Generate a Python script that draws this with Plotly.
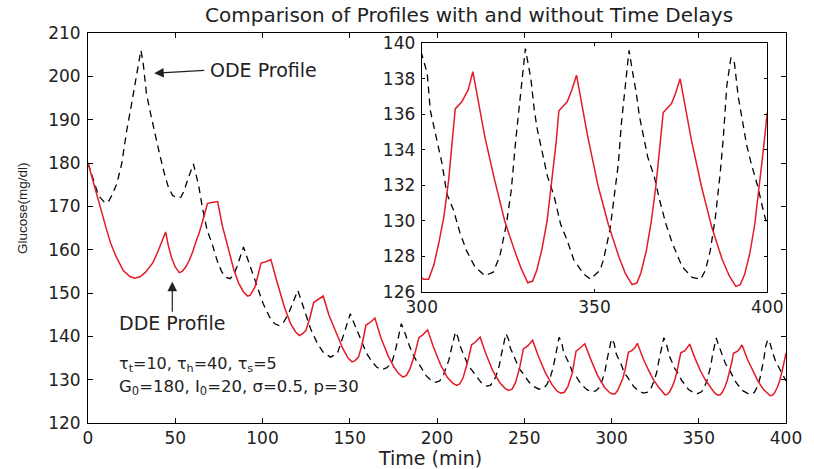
import plotly.graph_objects as go

# ---------------- data ----------------
ode_time = [0, 3, 6, 9.9, 12, 14, 16.5, 19.3, 22.2, 25, 26.9, 28.7, 30.3, 31.5, 33.5, 36.3, 39.1, 41, 43.8, 46,
            48.5, 51, 53.2, 55, 57, 59, 60.4, 61.5, 63.6, 65.5, 68.3, 71.1, 74, 76.5, 78.7, 81.5, 83.5, 85.3, 87.5, 89.1,
            90.5, 93.8, 97, 100.4, 104, 107, 109.5, 112, 115, 117.3, 119, 120.2, 122, 124, 127.5, 131.5, 135, 139, 142.8, 145,
            146.6, 148.5, 150.3, 152, 154.1, 157, 159.7, 162.5, 165.4, 168, 171, 173.9, 176, 178, 179.5, 181, 182.4, 184, 186, 188,
            190, 192, 194, 196.5, 199.3, 201.5, 203.5, 205, 206.8, 208.3, 209.6, 210.6, 212, 213.2, 214.5, 216.5, 218, 220, 222, 224,
            226, 228.5, 230.5, 232.5, 234.3, 235.7, 237, 238.5, 239.5, 241, 242, 243.5, 245.5, 247, 249, 251, 253, 255.5, 258.5, 261,
            263, 265, 266.5, 267.8, 269, 270, 271.5, 272.5, 274, 276, 277.5, 279.5, 281.5, 283.5, 286, 288.5, 291, 293, 294.8, 296.2,
            297.5, 298.8, 300, 301.6, 302.5, 303.9, 305.9, 307.3, 309.2, 311.1, 313, 315.4, 318.3, 320.7, 322.6, 324.5, 325.9, 327.3,
            328.8, 330, 331.6, 332.6, 333.5, 335.4, 336.4, 338.3, 340.2, 342.1, 344, 346.9, 348.8, 351.6, 352.6, 354.5, 355.4, 356.9,
            357.8, 359.2, 360, 361.1, 362.1, 363, 364.5, 365.4, 367.3, 368.8, 370.7, 372.6, 375.4, 378.3, 380.7, 382.1, 383.5, 385,
            386.4, 387.3, 388.3, 389.5, 390.5, 391.6, 392.6, 394, 395.4, 397.3, 398.7, 400]
ode_glucose = [180, 176, 172.5, 170.7, 171.3, 172.8, 175.2, 179.8, 187.5, 193.7, 198.3, 202.9, 206, 203.5, 196, 190.6, 185.2, 182.1, 177.5, 174.5,
               172.5, 172, 172.1, 173.5, 176, 178.5, 179.8, 178, 174.4, 169.8, 164.4, 161.4, 157.5, 155, 153.7, 153.3, 154.3, 156, 158.5, 160.6,
               159, 155.2, 151, 147.5, 144.5, 142.9, 142.5, 143.2, 145.3, 147.5, 149.5, 150.6, 148.5, 146, 141.8, 138.3, 136.2, 135.2, 136, 138.5,
               140.6, 143.2, 145.2, 143.5, 141.4, 138.5, 136, 134.3, 132.9, 132.3, 132.7, 133.7, 136.5, 140, 142.9, 141.5, 139.8, 138, 136, 134.5,
               133.4, 132, 130.8, 129.9, 129.4, 129.7, 130.8, 132.6, 134.5, 137.2, 139.5, 141, 139.8, 137.8, 136.5, 134.8, 133.2, 132.2, 131, 130,
               129, 128.5, 128.7, 129.6, 131.4, 133.3, 136, 138.8, 140.6, 139.3, 137.3, 136, 134.2, 132.6, 131.6, 130.3, 129.3, 128.4, 127.8, 128,
               128.9, 130.7, 132.7, 135.3, 137.7, 139.8, 138.5, 136.4, 135.1, 133.5, 131.8, 130.9, 129.6, 128.6, 127.7, 127.2, 127.4, 128.2, 130, 131.8,
               134.7, 137.4, 139.4, 138.3, 136.2, 134.9, 133.2, 131.5, 130.6, 129.3, 128.3, 127.4, 126.9, 127.1, 128, 129.8, 131.7, 134.7,
               137.4, 139.7, 138.0, 136.2, 135.1, 133.4, 132.5, 131.4, 129.8, 128.9, 127.8, 127, 126.7, 127.2, 127.8, 129.5, 131, 133.2,
               135.5, 138.3, 139.6, 138.3, 137.2, 135.9, 134.5, 133.6, 132.5, 131.2, 129.8, 128.7, 127.4, 126.8, 126.7, 127.2, 128.3, 130.2,
               132.7, 134.7, 137.6, 139.2, 138.9, 137, 135.9, 134.3, 133.2, 131.9, 130.7, 129.7]

dde_time = [0, 3, 6, 8.9, 10.8, 13, 16, 20.2, 24, 27, 30, 33, 35.3, 37.2, 40, 42.5, 44.5, 46, 48, 50,
            52.3, 54, 56, 58, 60, 62, 63.6, 66, 68.5, 71, 74.3, 77, 80.6, 83.5, 86.2, 89, 91.5, 93, 95.7, 97.5,
            99.2, 102, 104.8, 108, 112.6, 116, 119, 121.1, 123, 124.9, 127, 129.3, 132, 134.8, 138, 142.8, 146, 149, 151.3, 153,
            155, 157, 159.3, 162, 164.4, 168, 172, 175.5, 178, 180.5, 182.5, 184.5, 187, 189.6, 192, 194.6, 198, 202, 206, 209,
            211.3, 213, 215, 217.5, 219.8, 222, 224.7, 228, 232, 236, 239, 241, 243, 245, 247.5, 249.5, 252, 254.8, 258, 262,
            266, 269, 271, 273, 275, 277.5, 279.7, 282, 284.7, 288, 292, 296, 299, 300.5, 302, 303.5, 304.9, 306.4, 307.8, 308.9,
            309.7, 311.6, 313.5, 314.8, 318.3, 321.1, 324, 326.9, 328.8, 330.7, 332.1, 333.3, 334.8, 336.3, 337.7, 338.9, 339.7, 342.1,
            343.5, 344.8, 348, 351, 354, 357, 359, 360.9, 362.3, 363.5, 365, 366.4, 367.8, 369, 369.9, 372.3, 373.5, 374.8, 378, 381,
            384, 387, 389, 390.9, 392.2, 393.5, 395, 396.4, 397.8, 399, 400]
dde_glucose = [180, 175.5, 171.3, 167.1, 164.4, 161.5, 158.5, 155.2, 153.8, 153.4, 153.8, 154.8, 156, 157, 159.5, 162, 164.1, 161, 158, 156,
               154.7, 155, 156, 157.5, 159.5, 162, 163.7, 167, 170.7, 170.9, 171.1, 165.5, 159.8, 155.5, 152.4, 150.3, 149.3, 149.5, 151.4, 154,
               156.9, 157.2, 157.7, 153, 146.7, 143, 141, 140.2, 140.6, 141.4, 144, 147.8, 148.5, 149.3, 145, 140.4, 137.2, 135, 134.1, 134.4,
               135.2, 138, 142.6, 143.3, 144.2, 139.5, 135.5, 132.8, 131.4, 130.6, 131, 132.5, 135.5, 139.7, 140.4, 141.5, 137.5, 133.5, 130.5, 129.2,
               128.7, 129, 130.5, 134, 138, 138.7, 139.8, 136, 132, 129.3, 128, 127.5, 127.8, 129.3, 133, 137.1, 137.8, 139.1, 135.5, 131.7,
               128.8, 127.3, 126.9, 127.1, 128.4, 131.5, 136.6, 137.3, 138.3, 134.8, 131, 128.2, 127, 126.7, 126.7, 127.5, 128.7, 130.2, 132.3, 134.5,
               136.3, 136.7, 137.4, 138.4, 134.7, 132.3, 130, 128.3, 127.3, 126.5, 126.6, 127.2, 128.4, 130, 132.2, 134.4, 136.2, 136.7,
               137.4, 138.2, 134.8, 132, 129.8, 128, 127, 126.4, 126.5, 127.1, 128.3, 129.9, 132, 134.2, 136.1, 136.6, 137.2, 138, 134.6, 131.9,
               129.6, 127.8, 126.9, 126.3, 126.4, 127, 128.2, 129.8, 132, 134.2, 136.1]

x_ticks_main = [0, 50, 100, 150, 200, 250, 300, 350, 400]
y_ticks_main = [120, 130, 140, 150, 160, 170, 180, 190, 200, 210]
x_ticks_inset = [300, 350, 400]
y_ticks_inset = [126, 128, 130, 132, 134, 136, 138, 140]

title_text = "Comparison of Profiles with and without Time Delays"
x_label = "Time (min)"
y_label = "Glucose(mg/dl)"
param_line1 = "τ<sub>t</sub>=10, τ<sub>h</sub>=40, τ<sub>s</sub>=5"
param_line2 = "G<sub>0</sub>=180, I<sub>0</sub>=20, σ=0.5, p=30"

assert len(ode_time) == len(ode_glucose)
assert len(dde_time) == len(dde_glucose)

# ---------------- figure ----------------
RED = "rgb(228,26,36)"
FONT = "DejaVu Sans"
TXT = "#222222"

fig = go.Figure()
for xa, ya in (("x", "y"), ("x2", "y2")):
    fig.add_trace(go.Scatter(x=ode_time, y=ode_glucose, mode="lines", xaxis=xa, yaxis=ya,
                             line=dict(color="black", width=1.3, dash="7px,5px"), showlegend=False))
    fig.add_trace(go.Scatter(x=dde_time, y=dde_glucose, mode="lines", xaxis=xa, yaxis=ya,
                             line=dict(color=RED, width=1.5), showlegend=False))

ax_common = dict(showline=True, linecolor="black", linewidth=1, mirror="ticks", ticks="inside",
                 tickcolor="black", showgrid=False, zeroline=False,
                 tickfont=dict(family=FONT, size=17, color=TXT))

fig.update_layout(
    width=814, height=469,
    margin=dict(l=88, r=19, t=33, b=46),
    paper_bgcolor="white", plot_bgcolor="white",
    xaxis=dict(range=[0, 400], tickvals=x_ticks_main, ticklen=5, domain=[0, 1], **ax_common),
    yaxis=dict(range=[120, 210], tickvals=y_ticks_main, ticklen=5, domain=[0, 1],
               ticklabelstandoff=3, **ax_common),
    xaxis2=dict(range=[300, 400], tickvals=x_ticks_inset, ticklen=3, anchor="y2",
                domain=[0.4781, 0.9731], **ax_common),
    yaxis2=dict(range=[126, 140], tickvals=y_ticks_inset, ticklen=3, anchor="x2",
                domain=[0.3367, 0.9736], ticklabelstandoff=2, **ax_common),
)

annotations = [
    dict(text=title_text, xref="paper", yref="paper", x=0.546, y=1.0, yshift=18,
         showarrow=False, font=dict(family=FONT, size=20, color=TXT), xanchor="center", yanchor="middle"),
    dict(text=x_label, xref="paper", yref="paper", x=0.49, y=0, yshift=-35,
         showarrow=False, font=dict(family=FONT, size=19, color=TXT), xanchor="center", yanchor="middle"),
    dict(text=y_label, xref="paper", yref="paper", x=0, xshift=-66, y=0.551, textangle=-90,
         showarrow=False, font=dict(family="Liberation Sans", size=13.5, color=TXT), xanchor="center", yanchor="middle"),
    # ODE arrow + label
    dict(x=37.9, y=200.7, ax=67.5, ay=201.4, xref="x", yref="y", axref="x", ayref="y", text="",
         showarrow=True, arrowhead=2, arrowsize=1.6, arrowwidth=1.2, arrowcolor=TXT),
    dict(text="ODE Profile", x=68.5, y=201.4, xref="x", yref="y", showarrow=False,
         xanchor="left", yanchor="middle", font=dict(family=FONT, size=19, color=TXT)),
    # DDE arrow + label
    dict(x=48.3, y=152.6, ax=48.3, ay=145.3, xref="x", yref="y", axref="x", ayref="y", text="",
         showarrow=True, arrowhead=2, arrowsize=1.6, arrowwidth=1.2, arrowcolor=TXT),
    dict(text="DDE Profile", x=48.3, y=143.0, xref="x", yref="y", showarrow=False,
         xanchor="center", yanchor="middle", font=dict(family=FONT, size=19, color=TXT)),
    dict(text=param_line1, x=16.4, y=133.5, xref="x", yref="y", showarrow=False, align="left",
         xanchor="left", yanchor="middle", font=dict(family=FONT, size=16, color=TXT)),
    dict(text=param_line2, x=16.4, y=128.2, xref="x", yref="y", showarrow=False, align="left",
         xanchor="left", yanchor="middle", font=dict(family=FONT, size=16.5, color=TXT)),
]
fig.update_layout(annotations=annotations)

fig.write_html("out.html", config={"displayModeBar": False},
               post_script="document.body.style.margin='0px';document.body.style.overflow='hidden';")
